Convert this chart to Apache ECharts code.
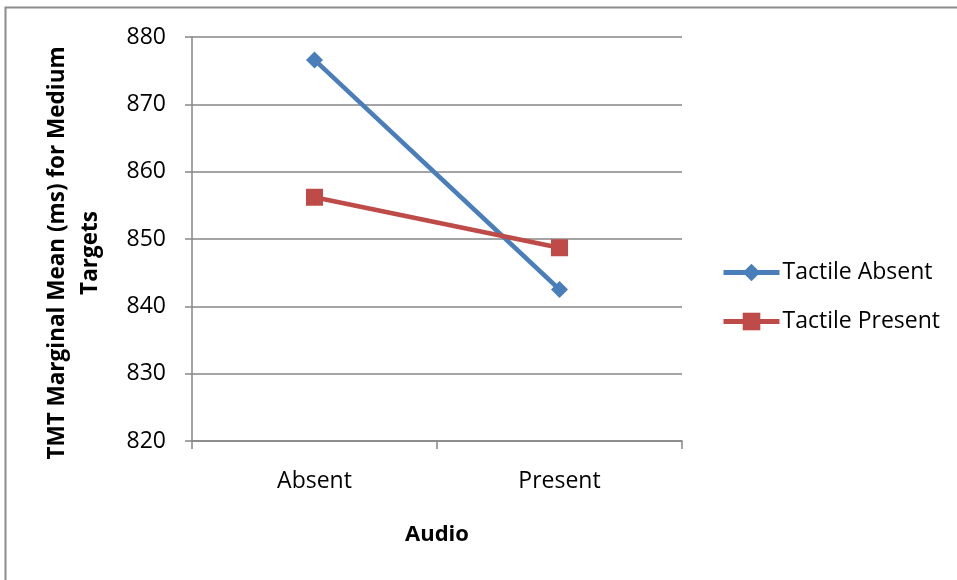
<!DOCTYPE html>
<html><head><meta charset="utf-8">
<script src="https://cdn.jsdelivr.net/npm/echarts@6/dist/echarts.min.js"></script>
<style>html,body{margin:0;padding:0;background:#fff}#c{width:957px;height:580px}</style>
</head><body><div id="c"></div>
<script>
const categories = ['Absent', 'Present'];
const tactileAbsent = [876.6, 842.5];
const tactilePresent = [856.2, 848.7];
const seriesNames = ['Tactile Absent', 'Tactile Present'];
const yTitle = 'TMT Marginal Mean (ms) for Medium\nTargets';
const xTitle = 'Audio';

const FONT = '"Open Sans", sans-serif';
const chart = echarts.init(document.getElementById('c'), null, {renderer: 'canvas'});
chart.setOption({
  animation: false,
  backgroundColor: '#fff',
  graphic: [{
    type: 'rect', shape: {x: 5.5, y: 7.5, width: 1000, height: 1000},
    style: {fill: 'none', stroke: '#8c8c8c', lineWidth: 2}, silent: true
  }],
  grid: {left: 192, top: 37, right: 275, bottom: 139, containLabel: false},
  legend: {
    orient: 'vertical', left: 721, top: 261, itemGap: 26, padding: 0,
    itemWidth: 56, itemHeight: 22,
    lineStyle: {width: 5},
    textStyle: {fontFamily: FONT, fontSize: 23, color: '#000', padding: [0, 0, 0, -2]},
    data: seriesNames
  },
  xAxis: {
    type: 'category', data: categories, boundaryGap: true,
    name: xTitle, nameLocation: 'middle', nameGap: 83,
    nameTextStyle: {fontFamily: FONT, fontSize: 22, fontWeight: 'bold', color: '#000'},
    axisLine: {lineStyle: {color: '#868686', width: 1.5}},
    axisTick: {show: true, length: 8, lineStyle: {color: '#868686', width: 1.5}},
    axisLabel: {fontFamily: FONT, fontSize: 23, color: '#000', margin: 29}
  },
  yAxis: {
    type: 'value', min: 820, max: 880, interval: 10,
    name: yTitle, nameLocation: 'middle', nameGap: 85, nameRotate: 90,
    nameTextStyle: {fontFamily: FONT, fontSize: 22.5, fontWeight: 'bold', color: '#000', lineHeight: 33, padding: [0, 28, 0, 0]},
    axisLine: {show: true, lineStyle: {color: '#868686', width: 1.5}},
    axisTick: {show: true, length: 7, lineStyle: {color: '#868686', width: 1.5}},
    axisLabel: {fontFamily: FONT, fontSize: 23, color: '#000', margin: 26},
    splitLine: {lineStyle: {color: '#868686', width: 1.5}}
  },
  series: [
    {name: seriesNames[0], type: 'line', data: tactileAbsent, symbol: 'diamond', symbolSize: 17,
     itemStyle: {color: '#4A7EBB'}, lineStyle: {color: '#4A7EBB', width: 4.5}},
    {name: seriesNames[1], type: 'line', data: tactilePresent, symbol: 'rect', symbolSize: 17,
     itemStyle: {color: '#BE4B48'}, lineStyle: {color: '#BE4B48', width: 4.5}}
  ]
});
</script></body></html>
